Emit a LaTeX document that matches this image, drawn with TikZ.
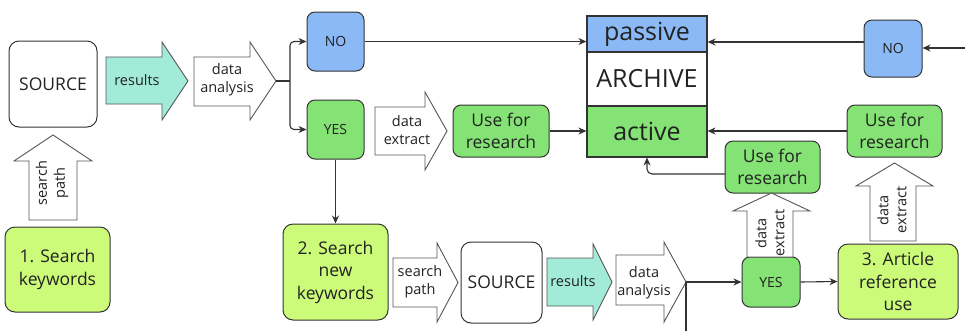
\documentclass[tikz,border=0pt]{standalone}
\usepackage{fontspec}
\setmainfont{Open Sans}
\usetikzlibrary{arrows.meta,calc}
\definecolor{tealc}{HTML}{A2EBD8}
\definecolor{bluec}{HTML}{8AB9F5}
\definecolor{greenc}{HTML}{85E274}
\definecolor{limec}{HTML}{CCFB7A}
\definecolor{edgec}{HTML}{333333}
\definecolor{arrc}{HTML}{555555}
\definecolor{txtc}{HTML}{222222}
\newcommand\rblock[8]{\draw[blockarrow,fill=#1] (#2,#5) -- (#3,#5) -- (#3,#7) -- (#4,{(#7+#8)/2}) -- (#3,#8) -- (#3,#6) -- (#2,#6) -- cycle;}
\newcommand\ublock[8]{\draw[blockarrow,fill=#1] (#2,#4) -- (#2,#5) -- (#6,#5) -- ({(#6+#7)/2},#8) -- (#7,#5) -- (#3,#5) -- (#3,#4) -- cycle;}
\begin{document}
\begin{tikzpicture}[x=1pt,y=-1pt,
  box/.style={draw=edgec,line width=1pt,rounded corners=10pt,align=center,inner sep=0pt,text=txtc,font=\fontsize{17.5}{22.5}\selectfont},
  sbox/.style={box,rounded corners=8pt,font=\fontsize{14}{16}\selectfont},
  sect/.style={draw=edgec,line width=1.1pt,inner sep=0pt,minimum width=120pt,text=txtc,font=\fontsize{25}{28}\selectfont},
  blockarrow/.style={draw=arrc,line width=0.9pt,line join=miter},
  lbl/.style={align=center,inner sep=0pt,text=txtc,font=\fontsize{14.5}{18}\selectfont},
  conn/.style={draw=edgec,line width=1.1pt,-{Stealth[length=8pt,width=7pt]}},
  plain/.style={draw=edgec,line width=1.1pt}]
\useasboundingbox (0,0) rectangle (965,330);
% boxes
\node[box,minimum width=88pt,minimum height=86pt] (src1) at (53,84) {SOURCE};
\node[box,fill=limec,minimum width=105pt,minimum height=85pt] (kw1) at (57.5,269.5) {1. Search\\keywords};
\node[sbox,fill=bluec,minimum width=57pt,minimum height=59pt] (no1) at (335.5,41.5) {NO};
\node[sbox,fill=greenc,minimum width=57pt,minimum height=59pt] (yes1) at (335.5,129.5) {YES};
\node[box,fill=greenc,minimum width=96pt,minimum height=52pt,rounded corners=8pt] (use1) at (501,131) {Use for\\research};
\node[sect,fill=bluec,minimum height=36pt] (passive) at (647,34) {passive};
\node[sect,fill=white,minimum height=54pt] (archive) at (647,79) {ARCHIVE};
\node[sect,fill=greenc,minimum height=51pt] (active) at (647,131.5) {active};
\node[sbox,fill=bluec,minimum width=58pt,minimum height=57pt] (no2) at (893,48.5) {NO};
\node[box,fill=greenc,minimum width=95pt,minimum height=52pt,rounded corners=8pt] (use2) at (894.5,131) {Use for\\research};
\node[box,fill=greenc,minimum width=95pt,minimum height=52pt,rounded corners=8pt] (use3) at (772.5,167) {Use for\\research};
\node[box,fill=limec,minimum width=105pt,minimum height=96pt] (kw2) at (335.5,272) {2. Search\\new\\keywords};
\node[box,minimum width=81pt,minimum height=81pt] (src2) at (501.5,282.5) {SOURCE};
\node[sbox,fill=greenc,minimum width=58pt,minimum height=50pt] (yes2) at (771,282) {YES};
\node[box,fill=limec,minimum width=120pt,minimum height=75pt] (art) at (898,281.5) {3. Article\\reference\\use};
% block arrows
\rblock{tealc}{106}{162}{188}{57}{104}{42}{120}
\rblock{white}{194}{250}{276}{57}{106}{42}{120}
\rblock{white}{375}{425}{447}{107}{155}{92}{170}
\rblock{white}{393}{437}{458}{258}{307}{243}{322}
\rblock{tealc}{547}{593}{612}{258}{306}{244}{320}
\rblock{white}{616}{664}{686}{255}{305}{242}{322}
\ublock{white}{29}{77}{220}{161}{14}{92}{135}
\ublock{white}{747}{793}{257}{211}{733}{810}{193}
\ublock{white}{870}{916}{241}{186}{856}{933}{163}
% arrow labels
\node[lbl] (tres1) at (137,80) {results};
\node[lbl] (tda1) at (227,80) {data\\analysis};
\node[lbl] (tde1) at (407,130) {data\\extract};
\node[lbl] (tsp2) at (420,282) {search\\path};
\node[lbl] (tres2) at (573,281) {results};
\node[lbl] (tda2) at (644,283) {data\\analysis};
\node[lbl,rotate=90] (tsp1) at (52,183) {search\\path};
\node[lbl,rotate=90] (tde2) at (770,233) {data\\extract};
\node[lbl,rotate=90] (tde3) at (892,210) {data\\extract};
% connectors
\coordinate (fork) at (290,81);
\coordinate (da1tip) at (276,81);
\draw[plain] (da1tip) -- (fork);
\draw[conn,rounded corners=4pt] (fork) |- (no1.west);
\draw[conn,rounded corners=4pt] (fork) |- (yes1.west);
\draw[conn] (no1.east) -- (passive.west |- no1.east);
\draw[conn] (use1.east) -- (active.west |- use1.east);
\draw[conn] (yes1.south) -- (kw2.north);
\coordinate (rin) at (965,48);
\draw[conn] (rin) -- (no2.east |- rin);
\coordinate (no2out) at (864,42);
\draw[conn] (no2out) -- (passive.east |- no2out);
\draw[conn] (use2.west) -- (active.east |- use2.west);
\coordinate (use3out) at (725,174);
\draw[conn,rounded corners=5pt] (use3out) -| (active.south);
\coordinate (da2tip) at (686,282);
\coordinate (downend) at (686,335);
\draw[conn] (da2tip) -- (yes2.west);
\draw[plain] (da2tip) -- (downend);
\draw[conn] (yes2.east) -- (art.west);
\end{tikzpicture}
\end{document}
